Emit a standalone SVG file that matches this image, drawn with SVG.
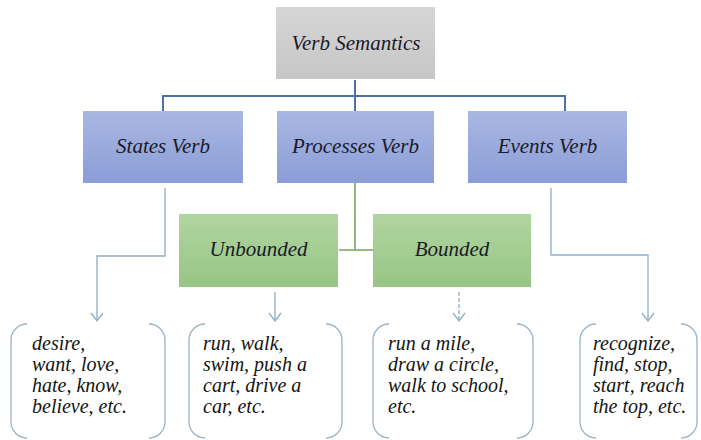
<svg xmlns="http://www.w3.org/2000/svg" width="701" height="440" viewBox="0 0 701 440">
<defs>
<linearGradient id="gGray" x1="0" y1="0" x2="0" y2="1"><stop offset="0" stop-color="#d6d6d6"/><stop offset="1" stop-color="#c6c6c6"/></linearGradient>
<linearGradient id="gBlue" x1="0" y1="0" x2="0" y2="1"><stop offset="0" stop-color="#aab7e2"/><stop offset="1" stop-color="#8a9dd6"/></linearGradient>
<linearGradient id="gGreen" x1="0" y1="0" x2="0" y2="1"><stop offset="0" stop-color="#b1d5a0"/><stop offset="1" stop-color="#97c585"/></linearGradient>
<marker id="arr" markerWidth="14" markerHeight="14" refX="10" refY="7" orient="auto" markerUnits="userSpaceOnUse" viewBox="0 0 14 14">
<path d="M2,1 L10,7 L2,13" fill="none" stroke="#8aaec8" stroke-width="1.3"/>
</marker>
</defs>
<style>
text{font-family:'Liberation Serif','Times New Roman',serif;font-style:italic}
.h{font-size:21px;fill:#1a1a2a;text-anchor:middle}
.t{font-size:20px;fill:#141414}
.br{fill:none;stroke:#9db2c2;stroke-width:1.3}
.cb{fill:none;stroke:#4a72a8;stroke-width:2}
.cg{fill:none;stroke:#7ba35d;stroke-width:1.6}
.cl{fill:none;stroke:#8aaec8;stroke-width:1.3}
</style>
<rect width="701" height="440" fill="#ffffff"/>
<g id="connectors">
<path class="cb" d="M355,80 V96 M163,113 V96 H565 V113 M355,96 V111"/>
<path class="cg" d="M355,183 V250 M339,250 H373"/>
<path class="cl" d="M165,188 V256 H97 V321" marker-end="url(#arr)"/>
<path class="cl" d="M551,188 V255 H648 V321" marker-end="url(#arr)"/>
<path class="cl" d="M275,292 V321" marker-end="url(#arr)"/>
<path class="cl" d="M459,292 V321" stroke-dasharray="4,2" marker-end="url(#arr)"/>
</g>
<g id="verb-semantics"><rect x="276" y="7" width="159" height="72" fill="url(#gGray)"/><text class="h" x="356" y="50">Verb Semantics</text></g>
<g id="states-verb"><rect x="83" y="111" width="160" height="72" fill="url(#gBlue)"/><text class="h" x="163" y="153">States Verb</text></g>
<g id="processes-verb"><rect x="277" y="111" width="157" height="72" fill="url(#gBlue)"/><text class="h" x="355.5" y="153">Processes Verb</text></g>
<g id="events-verb"><rect x="468" y="111" width="159" height="72" fill="url(#gBlue)"/><text class="h" x="547.5" y="153">Events Verb</text></g>
<g id="unbounded"><rect x="179" y="214" width="159" height="73" fill="url(#gGreen)"/><text class="h" x="258.5" y="256">Unbounded</text></g>
<g id="bounded"><rect x="373" y="214" width="158" height="73" fill="url(#gGreen)"/><text class="h" x="452" y="256">Bounded</text></g>
<g id="states-examples">
<path class="br" d="M27,324 A16,16 0 0 0 11,340 V422 A16,16 0 0 0 27,438 M149,324 A16,16 0 0 1 165,340 V422 A16,16 0 0 1 149,438"/>
<text class="t" x="32" y="350">desire,</text><text class="t" x="32" y="371">want, love,</text><text class="t" x="32" y="392">hate, know,</text><text class="t" x="32" y="413">believe, etc.</text>
</g>
<g id="unbounded-examples">
<path class="br" d="M205,324 A16,16 0 0 0 189,340 V422 A16,16 0 0 0 205,438 M326,324 A16,16 0 0 1 342,340 V422 A16,16 0 0 1 326,438"/>
<text class="t" x="203" y="350">run, walk,</text><text class="t" x="203" y="371">swim, push a</text><text class="t" x="203" y="392">cart, drive a</text><text class="t" x="203" y="413">car, etc.</text>
</g>
<g id="bounded-examples">
<path class="br" d="M389,324 A16,16 0 0 0 373,340 V422 A16,16 0 0 0 389,438 M517,324 A16,16 0 0 1 533,340 V422 A16,16 0 0 1 517,438"/>
<text class="t" x="388" y="350">run a mile,</text><text class="t" x="388" y="371">draw a circle,</text><text class="t" x="388" y="392">walk to school,</text><text class="t" x="388" y="413">etc.</text>
</g>
<g id="events-examples">
<path class="br" d="M596,324 A16,16 0 0 0 580,340 V422 A16,16 0 0 0 596,438 M681,324 A16,16 0 0 1 697,340 V422 A16,16 0 0 1 681,438"/>
<text class="t" x="593" y="350">recognize,</text><text class="t" x="593" y="371">find, stop,</text><text class="t" x="593" y="392">start, reach</text><text class="t" x="593" y="413">the top, etc.</text>
</g>
</svg>
